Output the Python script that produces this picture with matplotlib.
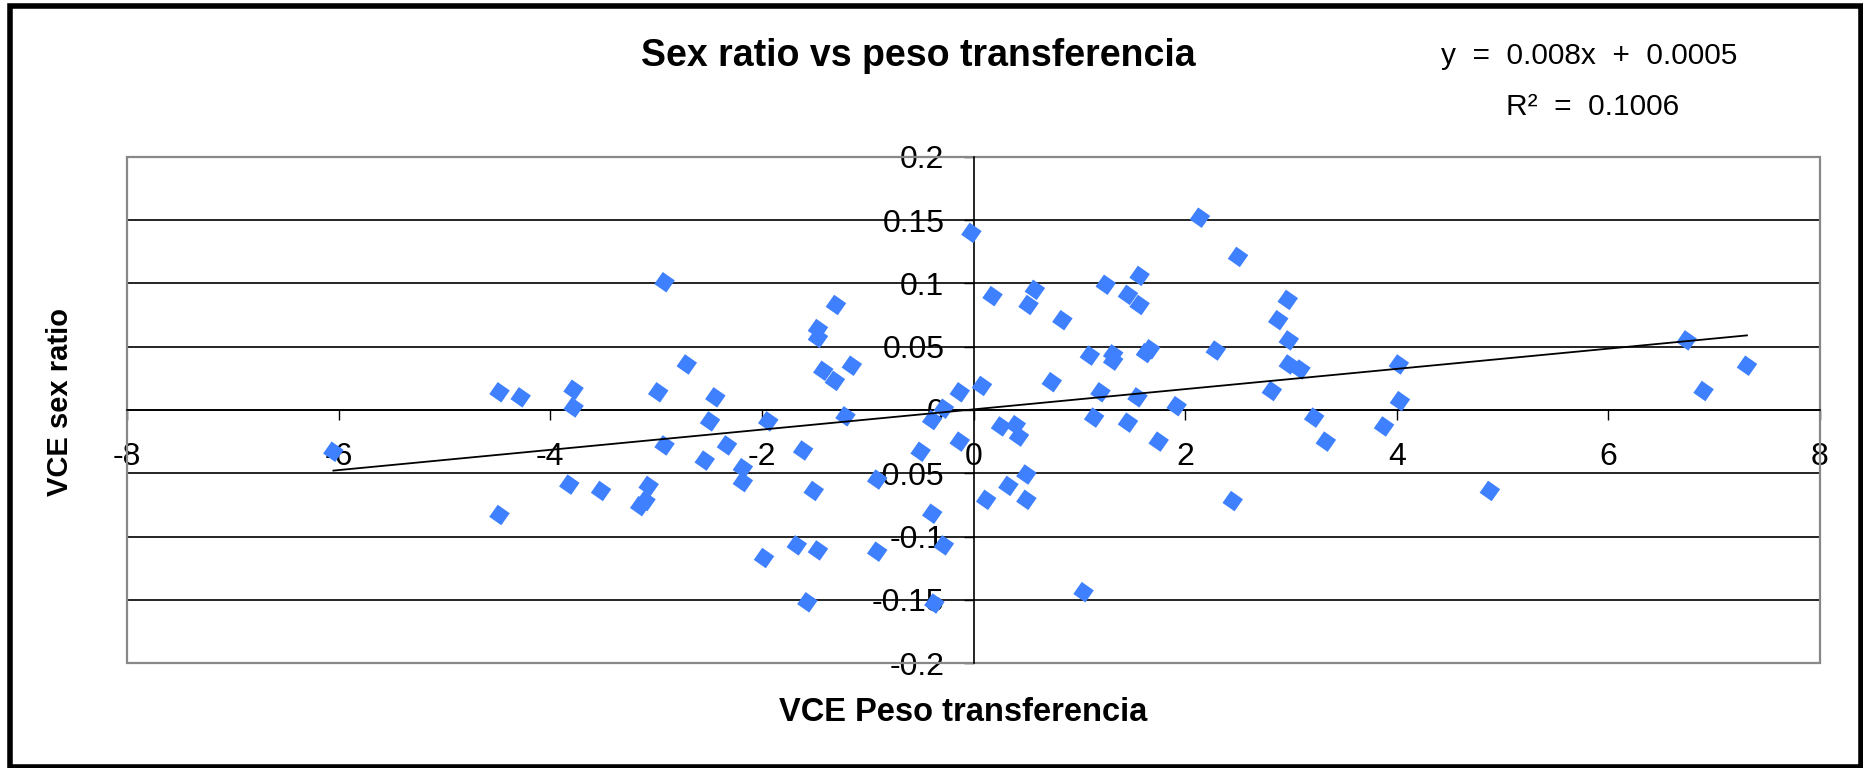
import matplotlib
matplotlib.use('Agg')
import matplotlib.pyplot as plt
from matplotlib.patches import Rectangle
from matplotlib.ticker import FuncFormatter
import numpy as np

plt.rcParams['font.family'] = ['Liberation Sans', 'DejaVu Sans']

# VCE Peso transferencia (x) and VCE sex ratio (y)
peso = [-6.05, -4.48, -4.28, -3.78, -3.78, -2.98, -2.92, -2.71, -2.92, -4.48,
        -3.82, -3.52, -3.07, -3.10, -3.15, -2.44, -2.49, -2.54, -2.33, -2.18,
        -2.18, -1.94, -1.98, -1.61, -1.67, -1.47, -1.57, -1.51, -1.47, -1.47,
        -1.30, -1.42, -1.31, -1.15, -1.21, -0.91, -0.91, -0.50, -0.39, -0.28,
        -0.39, -0.28, -0.37, -0.13, -0.13, -0.02, 0.08, 0.18, 0.12, 0.26,
        0.40, 0.43, 0.33, 0.50, 0.50, 0.52, 0.58, 0.84, 0.74, 1.04,
        1.10, 1.14, 1.20, 1.25, 1.32, 1.32, 1.46, 1.57, 1.57, 1.46,
        1.55, 1.63, 1.67, 1.75, 1.92, 2.14, 2.50, 2.29, 2.45, 2.97,
        2.88, 2.98, 2.98, 3.09, 2.82, 3.22, 3.33, 3.88, 4.02, 4.03,
        4.88, 6.74, 6.90, 7.31]
sex_ratio = [-0.033, 0.014, 0.010, 0.016, 0.002, 0.014, 0.101, 0.036, -0.028, -0.083,
             -0.059, -0.064, -0.060, -0.072, -0.076, 0.010, -0.009, -0.040, -0.028, -0.046,
             -0.057, -0.009, -0.117, -0.032, -0.107, -0.111, -0.152, -0.064, 0.064, 0.057,
             0.083, 0.031, 0.023, 0.035, -0.005, -0.055, -0.112, -0.033, -0.008, 0.001,
             -0.082, -0.107, -0.153, 0.014, -0.025, 0.140, 0.019, 0.090, -0.071, -0.013,
             -0.012, -0.021, -0.060, -0.051, -0.071, 0.083, 0.095, 0.071, 0.022, -0.144,
             0.043, -0.006, 0.014, 0.099, 0.044, 0.039, 0.091, 0.083, 0.106, -0.010,
             0.010, 0.045, 0.048, -0.025, 0.003, 0.152, 0.121, 0.047, -0.072, 0.087,
             0.071, 0.055, 0.036, 0.032, 0.015, -0.006, -0.025, -0.013, 0.036, 0.007,
             -0.064, 0.055, 0.015, 0.035]

slope = 0.008
intercept = 0.0005
r2 = 0.1006

x_ticks = [-8, -6, -4, -2, 0, 2, 4, 6, 8]
y_ticks = [-0.2, -0.15, -0.1, -0.05, 0, 0.05, 0.1, 0.15, 0.2]

fig = plt.figure(figsize=(18.63, 7.68), dpi=100)
ax = fig.add_axes([0.0682, 0.1367, 0.9087, 0.6589])

ax.scatter(peso, sex_ratio, marker=(4, 0, 10), s=15 ** 2, color='#3f80ff',
           edgecolors='none', zorder=3)

# linear trendline over the data range
xl = np.array([min(peso), max(peso)])
ax.plot(xl, slope * xl + intercept, color='black', lw=1.3, zorder=4)

ax.set_xlim(-8, 8)
ax.set_ylim(-0.2, 0.2)
ax.set_xticks(x_ticks)
ax.set_yticks(y_ticks)
ax.xaxis.set_major_formatter(FuncFormatter(lambda v, p: f'{round(v, 3):g}'))
ax.yaxis.set_major_formatter(FuncFormatter(lambda v, p: f'{round(v, 3) + 0:g}'))

ax.spines['left'].set_position(('data', 0))
ax.spines['bottom'].set_position(('data', 0))
ax.spines['top'].set_visible(False)
ax.spines['right'].set_visible(False)
for s in ['left', 'bottom']:
    ax.spines[s].set_color('black')
    ax.spines[s].set_linewidth(1.2)
    ax.spines[s].set_zorder(2)

ax.tick_params(axis='x', direction='out', length=7, width=1, pad=16, labelsize=23)
ax.tick_params(axis='y', direction='out', length=7, width=1, pad=14, labelsize=23)

ax.yaxis.grid(True, color='black', lw=1.2, zorder=1)
ax.set_axisbelow(True)
ax.add_patch(Rectangle((0, 0), 1, 1, transform=ax.transAxes, fill=False,
                       edgecolor='#888888', lw=1.6, clip_on=False, zorder=2))

fig.text(0.493, 0.927, 'Sex ratio vs peso transferencia', fontsize=27,
         fontweight='bold', ha='center', va='center')
fig.text(0.853, 0.927, 'y  =  0.008x  +  0.0005', fontsize=21.5, ha='center', va='center')
fig.text(0.855, 0.861, 'R²  =  ' + f'{r2:.4f}', fontsize=21.5, ha='center', va='center')
fig.text(0.517, 0.072, 'VCE Peso transferencia', fontsize=23.5, fontweight='bold',
         ha='center', va='center')
fig.text(0.032, 0.477, 'VCE sex ratio', fontsize=21, fontweight='bold',
         ha='center', va='center', rotation=90)

# outer frame
fig.patches.append(Rectangle((0.0056, 0.0015), 0.9933, 0.9907, transform=fig.transFigure,
                             fill=False, edgecolor='black', lw=4))

fig.savefig('out.png', dpi=100, facecolor='white')
